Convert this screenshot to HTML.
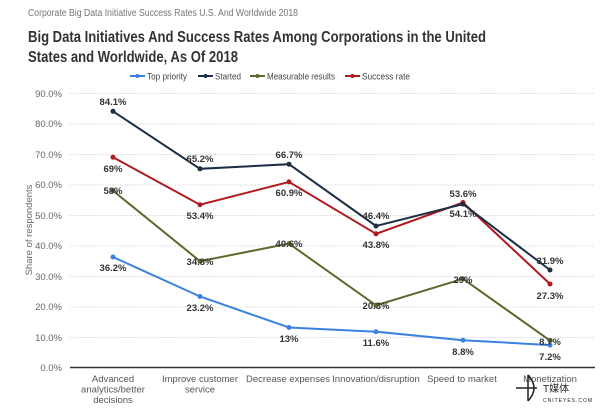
<!DOCTYPE html>
<html><head><meta charset="utf-8"><style>
body{margin:0;background:#fff;width:600px;height:408px;overflow:hidden;font-family:"Liberation Sans",sans-serif}
</style></head><body>
<svg width="600" height="408" xmlns="http://www.w3.org/2000/svg" font-family="Liberation Sans, sans-serif">
<text x="28" y="16" font-size="10" fill="#777" textLength="270" lengthAdjust="spacingAndGlyphs">Corporate Big Data Initiative Success Rates U.S. And Worldwide 2018</text>
<text x="28" y="42" font-size="16" font-weight="bold" fill="#333" textLength="458" lengthAdjust="spacingAndGlyphs">Big Data Initiatives And Success Rates Among Corporations in the United</text>
<text x="28" y="62" font-size="16" font-weight="bold" fill="#333" textLength="210" lengthAdjust="spacingAndGlyphs">States and Worldwide, As Of 2018</text>
<g font-size="9" fill="#444">
<line x1="130" y1="76" x2="145" y2="76" stroke="#3b82e0" stroke-width="2"/><circle cx="137.5" cy="76" r="2" fill="#3b82e0"/><text x="147" y="79.5" textLength="40" lengthAdjust="spacingAndGlyphs">Top priority</text>
<line x1="198" y1="76" x2="213" y2="76" stroke="#1c2e44" stroke-width="2"/><circle cx="205.5" cy="76" r="2" fill="#1c2e44"/><text x="215" y="79.5" textLength="26" lengthAdjust="spacingAndGlyphs">Started</text>
<line x1="250" y1="76" x2="265" y2="76" stroke="#5a6a2c" stroke-width="2"/><circle cx="257.5" cy="76" r="2" fill="#5a6a2c"/><text x="267" y="79.5" textLength="68" lengthAdjust="spacingAndGlyphs">Measurable results</text>
<line x1="345" y1="76" x2="360" y2="76" stroke="#b0191e" stroke-width="2"/><circle cx="352.5" cy="76" r="2" fill="#b0191e"/><text x="362" y="79.5" textLength="48" lengthAdjust="spacingAndGlyphs">Success rate</text>
</g>
<g stroke="#ccc" stroke-dasharray="1,1.5" stroke-width="1">
<line x1="70" x2="595" y1="93.5" y2="93.5"/><line x1="70" x2="595" y1="124" y2="124"/><line x1="70" x2="595" y1="154.5" y2="154.5"/><line x1="70" x2="595" y1="185" y2="185"/><line x1="70" x2="595" y1="215.5" y2="215.5"/><line x1="70" x2="595" y1="246" y2="246"/><line x1="70" x2="595" y1="276.5" y2="276.5"/><line x1="70" x2="595" y1="307" y2="307"/><line x1="70" x2="595" y1="337.5" y2="337.5"/>
</g>
<line x1="70" x2="595" y1="367.5" y2="367.5" stroke="#333" stroke-width="1.5"/>
<g font-size="9.5" fill="#666" text-anchor="end">
<text x="62" y="97">90.0%</text><text x="62" y="127">80.0%</text><text x="62" y="158">70.0%</text><text x="62" y="188">60.0%</text><text x="62" y="219">50.0%</text><text x="62" y="249">40.0%</text><text x="62" y="280">30.0%</text><text x="62" y="310">20.0%</text><text x="62" y="341">10.0%</text><text x="62" y="371">0.0%</text>
</g>
<text transform="translate(32,230) rotate(-90)" font-size="9.5" fill="#666" text-anchor="middle">Share of respondents</text>
<g font-size="9.5" fill="#555" text-anchor="middle">
<text x="113" y="382">Advanced</text><text x="113" y="392.5">analytics/better</text><text x="113" y="403">decisions</text>
<text x="200" y="382">Improve customer</text><text x="200" y="392.5">service</text>
<text x="288" y="382">Decrease expenses</text>
<text x="376" y="382">Innovation/disruption</text>
<text x="462" y="382">Speed to market</text>
<text x="550" y="382">Monetization</text>
</g>
<g fill="none" stroke-width="2">
<polyline stroke="#3b82e0" points="113,257 200,296.5 289,327.5 376,331.7 463,340.2 550,345.1"/>
<polyline stroke="#5a6a2c" points="113,190.7 200,261.2 289,243.6 376,305.3 463,278.8 550,340.6"/>
<polyline stroke="#b0191e" points="113,157.2 200,204.7 289,181.9 376,233.8 463,202.5 550,284"/>
<polyline stroke="#1c2e44" points="113,111.3 200,168.8 289,164.2 376,226 463,204.1 550,270"/>
</g>
<g fill="#3b82e0"><circle cx="113" cy="257" r="2.5"/><circle cx="200" cy="296.5" r="2.5"/><circle cx="289" cy="327.5" r="2.5"/><circle cx="376" cy="331.7" r="2.5"/><circle cx="463" cy="340.2" r="2.5"/><circle cx="550" cy="345.1" r="2.5"/></g>
<g fill="#5a6a2c"><circle cx="113" cy="190.7" r="2.5"/><circle cx="200" cy="261.2" r="2.5"/><circle cx="289" cy="243.6" r="2.5"/><circle cx="376" cy="305.3" r="2.5"/><circle cx="463" cy="278.8" r="2.5"/><circle cx="550" cy="340.6" r="2.5"/></g>
<g fill="#b0191e"><circle cx="113" cy="157.2" r="2.5"/><circle cx="200" cy="204.7" r="2.5"/><circle cx="289" cy="181.9" r="2.5"/><circle cx="376" cy="233.8" r="2.5"/><circle cx="463" cy="202.5" r="2.5"/><circle cx="550" cy="284" r="2.5"/></g>
<g fill="#1c2e44"><circle cx="113" cy="111.3" r="2.5"/><circle cx="200" cy="168.8" r="2.5"/><circle cx="289" cy="164.2" r="2.5"/><circle cx="376" cy="226" r="2.5"/><circle cx="463" cy="204.1" r="2.5"/><circle cx="550" cy="270" r="2.5"/></g>
<g font-size="9.5" font-weight="bold" fill="#333" text-anchor="middle">
<text x="113" y="105">84.1%</text><text x="200" y="162">65.2%</text><text x="289" y="158">66.7%</text><text x="376" y="219">46.4%</text><text x="463" y="197">53.6%</text><text x="550" y="264">31.9%</text>
<text x="113" y="172">69%</text><text x="200" y="219">53.4%</text><text x="289" y="196">60.9%</text><text x="376" y="248">43.8%</text><text x="463" y="217">54.1%</text><text x="550" y="299">27.3%</text>
<text x="113" y="194">58%</text><text x="200" y="265">34.8%</text><text x="289" y="247">40.6%</text><text x="376" y="309">20.3%</text><text x="463" y="283">29%</text><text x="550" y="345">8.7%</text>
<text x="113" y="271">36.2%</text><text x="200" y="311">23.2%</text><text x="289" y="342">13%</text><text x="376" y="346">11.6%</text><text x="463" y="355">8.8%</text><text x="550" y="360">7.2%</text>
</g>
<g stroke="#222" stroke-width="1.5" fill="none"><path d="M528 375 Q540 388 528 401"/><line x1="516" y1="388" x2="537" y2="388"/><line x1="528" y1="375" x2="528" y2="401"/></g>
<text x="543" y="392" font-size="10" fill="#222" font-family="Liberation Sans, Noto Sans CJK SC, sans-serif">T媒体</text>
<text x="543" y="402" font-size="5" fill="#222" letter-spacing="1">CNITEYES.COM</text>
</svg>
</body></html>
